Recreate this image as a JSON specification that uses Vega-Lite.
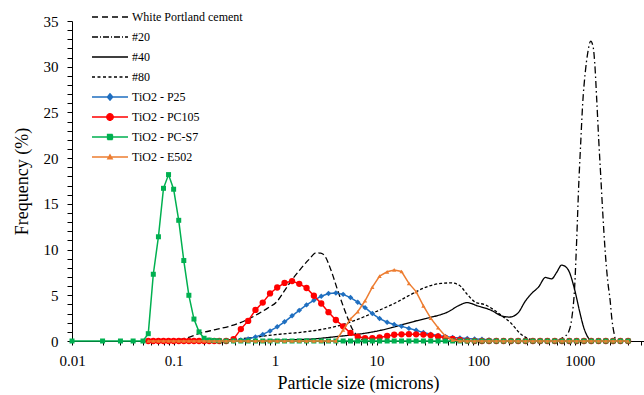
{
  "$schema": "https://vega.github.io/schema/vega-lite/v6.json",
  "width": 572,
  "height": 320,
  "autosize": {"type": "none"},
  "padding": {"left": 72, "top": 21, "right": 0, "bottom": 54},
  "config": {"font": "'Liberation Serif', 'Times New Roman', Times, serif", "view": {"stroke": null}},
  "data": {"values": [
    {"series":"White Portland cement","size":0.093,"freq":0},{"series":"White Portland cement","size":0.131,"freq":0.3},{"series":"White Portland cement","size":0.184,"freq":0.85},{"series":"White Portland cement","size":0.259,"freq":1.25},{"series":"White Portland cement","size":0.364,"freq":1.65},{"series":"White Portland cement","size":0.524,"freq":2.3},{"series":"White Portland cement","size":0.689,"freq":3.0},{"series":"White Portland cement","size":0.845,"freq":3.6},{"series":"White Portland cement","size":1.04,"freq":4.3},{"series":"White Portland cement","size":1.24,"freq":5.5},{"series":"White Portland cement","size":1.49,"freq":6.8},{"series":"White Portland cement","size":1.79,"freq":7.9},{"series":"White Portland cement","size":2.15,"freq":8.9},{"series":"White Portland cement","size":2.55,"freq":9.65},{"series":"White Portland cement","size":2.82,"freq":9.6},{"series":"White Portland cement","size":3.09,"freq":9.3},{"series":"White Portland cement","size":3.54,"freq":7.8},{"series":"White Portland cement","size":4.15,"freq":5.5},{"series":"White Portland cement","size":4.99,"freq":3.0},{"series":"White Portland cement","size":5.84,"freq":1.2},{"series":"White Portland cement","size":6.55,"freq":0.5},{"series":"White Portland cement","size":7.51,"freq":0.1},{"series":"White Portland cement","size":8.81,"freq":0},
    {"series":"#20","size":600,"freq":0},{"series":"#20","size":664,"freq":0.3},{"series":"#20","size":727,"freq":0.55},{"series":"#20","size":779,"freq":1.0},{"series":"#20","size":834,"freq":2.4},{"series":"#20","size":893,"freq":6},{"series":"#20","size":934,"freq":11},{"series":"#20","size":978,"freq":17},{"series":"#20","size":1023,"freq":21.6},{"series":"#20","size":1071,"freq":26},{"series":"#20","size":1133,"freq":29.3},{"series":"#20","size":1200,"freq":31.5},{"series":"#20","size":1284,"freq":32.8},{"series":"#20","size":1360,"freq":32.1},{"series":"#20","size":1407,"freq":30.4},{"series":"#20","size":1472,"freq":26.4},{"series":"#20","size":1540,"freq":22.0},{"series":"#20","size":1613,"freq":18.0},{"series":"#20","size":1688,"freq":14},{"series":"#20","size":1778,"freq":10},{"series":"#20","size":1891,"freq":6.5},{"series":"#20","size":1993,"freq":4.5},{"series":"#20","size":2071,"freq":2.5},{"series":"#20","size":2168,"freq":1.0},{"series":"#20","size":2269,"freq":0.1},{"series":"#20","size":2429,"freq":0},
    {"series":"#40","size":0.364,"freq":0},{"series":"#40","size":0.721,"freq":0.05},{"series":"#40","size":1.53,"freq":0.15},{"series":"#40","size":2.52,"freq":0.25},{"series":"#40","size":3.79,"freq":0.45},{"series":"#40","size":5.58,"freq":0.65},{"series":"#40","size":8.22,"freq":0.9},{"series":"#40","size":11.8,"freq":1.25},{"series":"#40","size":17.4,"freq":1.75},{"series":"#40","size":24.5,"freq":2.2},{"series":"#40","size":34.5,"freq":2.6},{"series":"#40","size":43.3,"freq":2.9},{"series":"#40","size":50.8,"freq":3.2},{"series":"#40","size":63.7,"freq":3.85},{"series":"#40","size":78.2,"freq":4.2},{"series":"#40","size":98.2,"freq":3.85},{"series":"#40","size":135,"freq":3.35},{"series":"#40","size":170,"freq":2.75},{"series":"#40","size":203,"freq":2.62},{"series":"#40","size":244,"freq":3.0},{"series":"#40","size":293,"freq":4.4},{"series":"#40","size":336,"freq":5.2},{"series":"#40","size":393,"freq":5.9},{"series":"#40","size":461,"freq":6.95},{"series":"#40","size":529,"freq":6.8},{"series":"#40","size":593,"freq":7.5},{"series":"#40","size":664,"freq":8.3},{"series":"#40","size":711,"freq":8.2},{"series":"#40","size":779,"freq":7.7},{"series":"#40","size":893,"freq":5.6},{"series":"#40","size":1000,"freq":3.2},{"series":"#40","size":1095,"freq":1.5},{"series":"#40","size":1200,"freq":0.45},{"series":"#40","size":1314,"freq":0.05},{"series":"#40","size":1472,"freq":0},
    {"series":"#80","size":0.25,"freq":0},{"series":"#80","size":0.364,"freq":0.15},{"series":"#80","size":0.574,"freq":0.35},{"series":"#80","size":1.01,"freq":0.7},{"series":"#80","size":1.79,"freq":0.95},{"series":"#80","size":3.16,"freq":1.35},{"series":"#80","size":4.98,"freq":1.9},{"series":"#80","size":7.34,"freq":2.6},{"series":"#80","size":10.3,"freq":3.3},{"series":"#80","size":14.9,"freq":4.1},{"series":"#80","size":21.9,"freq":5.1},{"series":"#80","size":30.8,"freq":5.9},{"series":"#80","size":43.3,"freq":6.3},{"series":"#80","size":54.3,"freq":6.35},{"series":"#80","size":65.2,"freq":6.1},{"series":"#80","size":78.2,"freq":5.1},{"series":"#80","size":93.8,"freq":4.25},{"series":"#80","size":118,"freq":3.95},{"series":"#80","size":141,"freq":3.45},{"series":"#80","size":169,"freq":2.8},{"series":"#80","size":213,"freq":1.9},{"series":"#80","size":255,"freq":0.9},{"series":"#80","size":306,"freq":0.3},{"series":"#80","size":367,"freq":0.05},{"series":"#80","size":440,"freq":0},
    {"series":"TiO2 - P25","size":0.0564,"freq":0},{"series":"TiO2 - P25","size":0.0632,"freq":0},{"series":"TiO2 - P25","size":0.071,"freq":0},{"series":"TiO2 - P25","size":0.0796,"freq":0},{"series":"TiO2 - P25","size":0.0893,"freq":0},{"series":"TiO2 - P25","size":0.1002,"freq":0},{"series":"TiO2 - P25","size":0.1125,"freq":0},{"series":"TiO2 - P25","size":0.1262,"freq":0},{"series":"TiO2 - P25","size":0.1416,"freq":0},{"series":"TiO2 - P25","size":0.1589,"freq":0},{"series":"TiO2 - P25","size":0.1783,"freq":0},{"series":"TiO2 - P25","size":0.2,"freq":0},{"series":"TiO2 - P25","size":0.2244,"freq":0},{"series":"TiO2 - P25","size":0.2518,"freq":0},{"series":"TiO2 - P25","size":0.2825,"freq":0},
    {"series":"TiO2 - P25","size":0.33,"freq":0},{"series":"TiO2 - P25","size":0.39,"freq":0.02},{"series":"TiO2 - P25","size":0.46,"freq":0.1},{"series":"TiO2 - P25","size":0.543,"freq":0.22},{"series":"TiO2 - P25","size":0.641,"freq":0.45},{"series":"TiO2 - P25","size":0.756,"freq":0.72},{"series":"TiO2 - P25","size":0.892,"freq":1.1},{"series":"TiO2 - P25","size":1.05,"freq":1.55},{"series":"TiO2 - P25","size":1.24,"freq":2.1},{"series":"TiO2 - P25","size":1.47,"freq":2.75},{"series":"TiO2 - P25","size":1.73,"freq":3.35},{"series":"TiO2 - P25","size":2.04,"freq":3.95},{"series":"TiO2 - P25","size":2.41,"freq":4.45},{"series":"TiO2 - P25","size":2.85,"freq":4.9},{"series":"TiO2 - P25","size":3.36,"freq":5.2},{"series":"TiO2 - P25","size":3.97,"freq":5.25},{"series":"TiO2 - P25","size":4.68,"freq":5.1},{"series":"TiO2 - P25","size":5.53,"freq":4.75},{"series":"TiO2 - P25","size":6.52,"freq":4.25},{"series":"TiO2 - P25","size":7.7,"freq":3.65},{"series":"TiO2 - P25","size":9.08,"freq":3.0},{"series":"TiO2 - P25","size":10.7,"freq":2.45},{"series":"TiO2 - P25","size":12.7,"freq":2.05},{"series":"TiO2 - P25","size":14.9,"freq":1.8},{"series":"TiO2 - P25","size":17.6,"freq":1.6},{"series":"TiO2 - P25","size":20.8,"freq":1.38},{"series":"TiO2 - P25","size":24.5,"freq":1.18},{"series":"TiO2 - P25","size":28.9,"freq":0.92},{"series":"TiO2 - P25","size":34.1,"freq":0.74},{"series":"TiO2 - P25","size":40.3,"freq":0.6},{"series":"TiO2 - P25","size":47.5,"freq":0.48},{"series":"TiO2 - P25","size":56.1,"freq":0.38},{"series":"TiO2 - P25","size":66.2,"freq":0.32},{"series":"TiO2 - P25","size":78.1,"freq":0.27},{"series":"TiO2 - P25","size":92.2,"freq":0.22},{"series":"TiO2 - P25","size":109,"freq":0.18},{"series":"TiO2 - P25","size":128,"freq":0.12},{"series":"TiO2 - P25","size":151,"freq":0.06},{"series":"TiO2 - P25","size":178,"freq":0.02},{"series":"TiO2 - P25","size":210,"freq":0},{"series":"TiO2 - P25","size":248,"freq":0},{"series":"TiO2 - P25","size":293,"freq":0},{"series":"TiO2 - P25","size":346,"freq":0},{"series":"TiO2 - P25","size":408,"freq":0},{"series":"TiO2 - P25","size":481,"freq":0},{"series":"TiO2 - P25","size":568,"freq":0},{"series":"TiO2 - P25","size":670,"freq":0},{"series":"TiO2 - P25","size":791,"freq":0},{"series":"TiO2 - P25","size":933,"freq":0},{"series":"TiO2 - P25","size":1101,"freq":0},{"series":"TiO2 - P25","size":1299,"freq":0},{"series":"TiO2 - P25","size":1533,"freq":0},{"series":"TiO2 - P25","size":1809,"freq":0},{"series":"TiO2 - P25","size":2134,"freq":0},{"series":"TiO2 - P25","size":2518,"freq":0},{"series":"TiO2 - P25","size":3000,"freq":0},
    {"series":"TiO2 - PC105","size":0.0564,"freq":0},{"series":"TiO2 - PC105","size":0.0632,"freq":0},{"series":"TiO2 - PC105","size":0.071,"freq":0},{"series":"TiO2 - PC105","size":0.0796,"freq":0},{"series":"TiO2 - PC105","size":0.0893,"freq":0},{"series":"TiO2 - PC105","size":0.1002,"freq":0},{"series":"TiO2 - PC105","size":0.1125,"freq":0},{"series":"TiO2 - PC105","size":0.1262,"freq":0},{"series":"TiO2 - PC105","size":0.1416,"freq":0},{"series":"TiO2 - PC105","size":0.1589,"freq":0},{"series":"TiO2 - PC105","size":0.1783,"freq":0},{"series":"TiO2 - PC105","size":0.2,"freq":0},{"series":"TiO2 - PC105","size":0.2244,"freq":0},{"series":"TiO2 - PC105","size":0.2518,"freq":0},{"series":"TiO2 - PC105","size":0.2825,"freq":0},
    {"series":"TiO2 - PC105","size":0.33,"freq":0},{"series":"TiO2 - PC105","size":0.39,"freq":0.2},{"series":"TiO2 - PC105","size":0.46,"freq":1.3},{"series":"TiO2 - PC105","size":0.543,"freq":2.2},{"series":"TiO2 - PC105","size":0.641,"freq":3.4},{"series":"TiO2 - PC105","size":0.756,"freq":4.2},{"series":"TiO2 - PC105","size":0.892,"freq":5.2},{"series":"TiO2 - PC105","size":1.05,"freq":5.85},{"series":"TiO2 - PC105","size":1.24,"freq":6.35},{"series":"TiO2 - PC105","size":1.47,"freq":6.55},{"series":"TiO2 - PC105","size":1.73,"freq":6.25},{"series":"TiO2 - PC105","size":2.04,"freq":5.8},{"series":"TiO2 - PC105","size":2.41,"freq":4.95},{"series":"TiO2 - PC105","size":2.85,"freq":4.1},{"series":"TiO2 - PC105","size":3.36,"freq":3.15},{"series":"TiO2 - PC105","size":3.97,"freq":2.3},{"series":"TiO2 - PC105","size":4.68,"freq":1.6},{"series":"TiO2 - PC105","size":5.53,"freq":0.88},{"series":"TiO2 - PC105","size":6.52,"freq":0.47},{"series":"TiO2 - PC105","size":7.7,"freq":0.32},{"series":"TiO2 - PC105","size":9.08,"freq":0.3},{"series":"TiO2 - PC105","size":10.7,"freq":0.38},{"series":"TiO2 - PC105","size":12.7,"freq":0.55},{"series":"TiO2 - PC105","size":14.9,"freq":0.68},{"series":"TiO2 - PC105","size":17.6,"freq":0.73},{"series":"TiO2 - PC105","size":20.8,"freq":0.75},{"series":"TiO2 - PC105","size":24.5,"freq":0.73},{"series":"TiO2 - PC105","size":28.9,"freq":0.7},{"series":"TiO2 - PC105","size":34.1,"freq":0.62},{"series":"TiO2 - PC105","size":40.3,"freq":0.5},{"series":"TiO2 - PC105","size":47.5,"freq":0.35},{"series":"TiO2 - PC105","size":56.1,"freq":0.22},{"series":"TiO2 - PC105","size":66.2,"freq":0.12},{"series":"TiO2 - PC105","size":78.1,"freq":0.05},{"series":"TiO2 - PC105","size":92.2,"freq":0},{"series":"TiO2 - PC105","size":109,"freq":0},{"series":"TiO2 - PC105","size":128,"freq":0},{"series":"TiO2 - PC105","size":151,"freq":0},{"series":"TiO2 - PC105","size":178,"freq":0},{"series":"TiO2 - PC105","size":210,"freq":0},{"series":"TiO2 - PC105","size":248,"freq":0},{"series":"TiO2 - PC105","size":293,"freq":0},{"series":"TiO2 - PC105","size":346,"freq":0},{"series":"TiO2 - PC105","size":408,"freq":0},{"series":"TiO2 - PC105","size":481,"freq":0},{"series":"TiO2 - PC105","size":568,"freq":0},{"series":"TiO2 - PC105","size":670,"freq":0},{"series":"TiO2 - PC105","size":791,"freq":0},{"series":"TiO2 - PC105","size":933,"freq":0},{"series":"TiO2 - PC105","size":1101,"freq":0},{"series":"TiO2 - PC105","size":1299,"freq":0},{"series":"TiO2 - PC105","size":1533,"freq":0},{"series":"TiO2 - PC105","size":1809,"freq":0},{"series":"TiO2 - PC105","size":2134,"freq":0},{"series":"TiO2 - PC105","size":2518,"freq":0},{"series":"TiO2 - PC105","size":3000,"freq":0},
    {"series":"TiO2 - PC-S7","size":0.01,"freq":0},{"series":"TiO2 - PC-S7","size":0.02,"freq":0},{"series":"TiO2 - PC-S7","size":0.03,"freq":0},{"series":"TiO2 - PC-S7","size":0.04,"freq":0},{"series":"TiO2 - PC-S7","size":0.05,"freq":0},
    {"series":"TiO2 - PC-S7","size":0.0564,"freq":0.8},{"series":"TiO2 - PC-S7","size":0.0632,"freq":7.3},{"series":"TiO2 - PC-S7","size":0.071,"freq":11.4},{"series":"TiO2 - PC-S7","size":0.0796,"freq":16.7},{"series":"TiO2 - PC-S7","size":0.0893,"freq":18.2},{"series":"TiO2 - PC-S7","size":0.1002,"freq":16.6},{"series":"TiO2 - PC-S7","size":0.1125,"freq":13.2},{"series":"TiO2 - PC-S7","size":0.1262,"freq":8.8},{"series":"TiO2 - PC-S7","size":0.1416,"freq":5.0},{"series":"TiO2 - PC-S7","size":0.1589,"freq":2.4},{"series":"TiO2 - PC-S7","size":0.1783,"freq":1.0},{"series":"TiO2 - PC-S7","size":0.2,"freq":0.3},{"series":"TiO2 - PC-S7","size":0.2244,"freq":0.1},{"series":"TiO2 - PC-S7","size":0.2518,"freq":0.05},{"series":"TiO2 - PC-S7","size":0.2825,"freq":0.02},
    {"series":"TiO2 - PC-S7","size":0.33,"freq":0},{"series":"TiO2 - PC-S7","size":0.39,"freq":0},{"series":"TiO2 - PC-S7","size":0.46,"freq":0},{"series":"TiO2 - PC-S7","size":0.543,"freq":0},{"series":"TiO2 - PC-S7","size":0.641,"freq":0},{"series":"TiO2 - PC-S7","size":0.756,"freq":0},{"series":"TiO2 - PC-S7","size":0.892,"freq":0},{"series":"TiO2 - PC-S7","size":1.05,"freq":0},{"series":"TiO2 - PC-S7","size":1.24,"freq":0},{"series":"TiO2 - PC-S7","size":1.47,"freq":0},{"series":"TiO2 - PC-S7","size":1.73,"freq":0},{"series":"TiO2 - PC-S7","size":2.04,"freq":0},{"series":"TiO2 - PC-S7","size":2.41,"freq":0},{"series":"TiO2 - PC-S7","size":2.85,"freq":0},{"series":"TiO2 - PC-S7","size":3.36,"freq":0},{"series":"TiO2 - PC-S7","size":3.97,"freq":0},{"series":"TiO2 - PC-S7","size":4.68,"freq":0},{"series":"TiO2 - PC-S7","size":5.53,"freq":0},{"series":"TiO2 - PC-S7","size":6.52,"freq":0},{"series":"TiO2 - PC-S7","size":7.7,"freq":0},{"series":"TiO2 - PC-S7","size":9.08,"freq":0},{"series":"TiO2 - PC-S7","size":10.7,"freq":0},{"series":"TiO2 - PC-S7","size":12.7,"freq":0},{"series":"TiO2 - PC-S7","size":14.9,"freq":0},{"series":"TiO2 - PC-S7","size":17.6,"freq":0},{"series":"TiO2 - PC-S7","size":20.8,"freq":0},{"series":"TiO2 - PC-S7","size":24.5,"freq":0},{"series":"TiO2 - PC-S7","size":28.9,"freq":0},{"series":"TiO2 - PC-S7","size":34.1,"freq":0},{"series":"TiO2 - PC-S7","size":40.3,"freq":0},{"series":"TiO2 - PC-S7","size":47.5,"freq":0},{"series":"TiO2 - PC-S7","size":56.1,"freq":0},{"series":"TiO2 - PC-S7","size":66.2,"freq":0},{"series":"TiO2 - PC-S7","size":78.1,"freq":0},{"series":"TiO2 - PC-S7","size":92.2,"freq":0},{"series":"TiO2 - PC-S7","size":109,"freq":0},{"series":"TiO2 - PC-S7","size":128,"freq":0},{"series":"TiO2 - PC-S7","size":151,"freq":0},{"series":"TiO2 - PC-S7","size":178,"freq":0},{"series":"TiO2 - PC-S7","size":210,"freq":0},{"series":"TiO2 - PC-S7","size":248,"freq":0},{"series":"TiO2 - PC-S7","size":293,"freq":0},{"series":"TiO2 - PC-S7","size":346,"freq":0},{"series":"TiO2 - PC-S7","size":408,"freq":0},{"series":"TiO2 - PC-S7","size":481,"freq":0},{"series":"TiO2 - PC-S7","size":568,"freq":0},{"series":"TiO2 - PC-S7","size":670,"freq":0},{"series":"TiO2 - PC-S7","size":791,"freq":0},{"series":"TiO2 - PC-S7","size":933,"freq":0},{"series":"TiO2 - PC-S7","size":1101,"freq":0},{"series":"TiO2 - PC-S7","size":1299,"freq":0},{"series":"TiO2 - PC-S7","size":1533,"freq":0},{"series":"TiO2 - PC-S7","size":1809,"freq":0},{"series":"TiO2 - PC-S7","size":2134,"freq":0},{"series":"TiO2 - PC-S7","size":2518,"freq":0},{"series":"TiO2 - PC-S7","size":3000,"freq":0},
    {"series":"TiO2 - E502","size":0.0564,"freq":0},{"series":"TiO2 - E502","size":0.0632,"freq":0},{"series":"TiO2 - E502","size":0.071,"freq":0},{"series":"TiO2 - E502","size":0.0796,"freq":0},{"series":"TiO2 - E502","size":0.0893,"freq":0},{"series":"TiO2 - E502","size":0.1002,"freq":0},{"series":"TiO2 - E502","size":0.1125,"freq":0},{"series":"TiO2 - E502","size":0.1262,"freq":0},{"series":"TiO2 - E502","size":0.1416,"freq":0},{"series":"TiO2 - E502","size":0.1589,"freq":0},{"series":"TiO2 - E502","size":0.1783,"freq":0},{"series":"TiO2 - E502","size":0.2,"freq":0},{"series":"TiO2 - E502","size":0.2244,"freq":0},{"series":"TiO2 - E502","size":0.2518,"freq":0},{"series":"TiO2 - E502","size":0.2825,"freq":0},
    {"series":"TiO2 - E502","size":0.33,"freq":0},{"series":"TiO2 - E502","size":0.39,"freq":0},{"series":"TiO2 - E502","size":0.46,"freq":0},{"series":"TiO2 - E502","size":0.543,"freq":0},{"series":"TiO2 - E502","size":0.641,"freq":0},{"series":"TiO2 - E502","size":0.756,"freq":0},{"series":"TiO2 - E502","size":0.892,"freq":0},{"series":"TiO2 - E502","size":1.05,"freq":0},{"series":"TiO2 - E502","size":1.24,"freq":0},{"series":"TiO2 - E502","size":1.47,"freq":0},{"series":"TiO2 - E502","size":1.73,"freq":0},{"series":"TiO2 - E502","size":2.04,"freq":0},{"series":"TiO2 - E502","size":2.41,"freq":0},{"series":"TiO2 - E502","size":2.85,"freq":0},{"series":"TiO2 - E502","size":3.36,"freq":0},{"series":"TiO2 - E502","size":3.97,"freq":0},{"series":"TiO2 - E502","size":4.68,"freq":1.2},{"series":"TiO2 - E502","size":5.53,"freq":2.4},{"series":"TiO2 - E502","size":6.52,"freq":3.2},{"series":"TiO2 - E502","size":7.7,"freq":4.4},{"series":"TiO2 - E502","size":9.08,"freq":5.9},{"series":"TiO2 - E502","size":10.7,"freq":7.1},{"series":"TiO2 - E502","size":12.7,"freq":7.57},{"series":"TiO2 - E502","size":14.9,"freq":7.77},{"series":"TiO2 - E502","size":17.6,"freq":7.6},{"series":"TiO2 - E502","size":20.8,"freq":6.3},{"series":"TiO2 - E502","size":24.5,"freq":5.4},{"series":"TiO2 - E502","size":28.9,"freq":3.85},{"series":"TiO2 - E502","size":34.1,"freq":2.5},{"series":"TiO2 - E502","size":40.3,"freq":1.45},{"series":"TiO2 - E502","size":47.5,"freq":0.55},{"series":"TiO2 - E502","size":56.1,"freq":0.12},{"series":"TiO2 - E502","size":66.2,"freq":0},{"series":"TiO2 - E502","size":78.1,"freq":0},{"series":"TiO2 - E502","size":92.2,"freq":0},{"series":"TiO2 - E502","size":109,"freq":0},{"series":"TiO2 - E502","size":128,"freq":0},{"series":"TiO2 - E502","size":151,"freq":0},{"series":"TiO2 - E502","size":178,"freq":0},{"series":"TiO2 - E502","size":210,"freq":0},{"series":"TiO2 - E502","size":248,"freq":0},{"series":"TiO2 - E502","size":293,"freq":0},{"series":"TiO2 - E502","size":346,"freq":0},{"series":"TiO2 - E502","size":408,"freq":0},{"series":"TiO2 - E502","size":481,"freq":0},{"series":"TiO2 - E502","size":568,"freq":0},{"series":"TiO2 - E502","size":670,"freq":0},{"series":"TiO2 - E502","size":791,"freq":0},{"series":"TiO2 - E502","size":933,"freq":0},{"series":"TiO2 - E502","size":1101,"freq":0},{"series":"TiO2 - E502","size":1299,"freq":0},{"series":"TiO2 - E502","size":1533,"freq":0},{"series":"TiO2 - E502","size":1809,"freq":0},{"series":"TiO2 - E502","size":2134,"freq":0},{"series":"TiO2 - E502","size":2518,"freq":0},{"series":"TiO2 - E502","size":3000,"freq":0}
  ]},
  "encoding": {
    "x": {
      "field": "size", "type": "quantitative",
      "scale": {"type": "log", "domain": [0.01, 4300], "nice": false},
      "axis": {
        "values": [0.01,0.02,0.03,0.04,0.05,0.06,0.07,0.08,0.09,0.1,0.2,0.3,0.4,0.5,0.6,0.7,0.8,0.9,1,2,3,4,5,6,7,8,9,10,20,30,40,50,60,70,80,90,100,200,300,400,500,600,700,800,900,1000,2000,3000,4000],
        "labelExpr": "indexof(['0.01','0.1','1','10','100','1000'], format(datum.value, '~g')) >= 0 ? format(datum.value, '~g') : ''",
        "labelFlush": false, "labelOverlap": false, "grid": false,
        "labelFont": "'Liberation Serif', 'Times New Roman', Times, serif",
        "titleFont": "'Liberation Serif', 'Times New Roman', Times, serif",
        "tickSize": 4, "tickColor": "black", "domainColor": "black",
        "labelColor": "black", "labelFontSize": 15, "labelPadding": 8,
        "title": "Particle size (microns)", "titleFontSize": 18, "titleFontWeight": "normal",
        "titleColor": "black", "titlePadding": 6
      }
    },
    "y": {
      "field": "freq", "type": "quantitative",
      "scale": {"domain": [0, 35], "nice": false},
      "axis": {
        "values": [0,1,2,3,4,5,6,7,8,9,10,11,12,13,14,15,16,17,18,19,20,21,22,23,24,25,26,27,28,29,30,31,32,33,34,35],
        "labelExpr": "datum.value % 5 === 0 ? datum.label : ''",
        "labelFlush": false, "labelOverlap": false, "grid": false,
        "labelFont": "'Liberation Serif', 'Times New Roman', Times, serif",
        "titleFont": "'Liberation Serif', 'Times New Roman', Times, serif",
        "tickSize": 5, "tickColor": "black", "domainColor": "black",
        "labelColor": "black", "labelFontSize": 15, "labelPadding": 9,
        "title": "Frequency (%)", "titleFontSize": 18, "titleFontWeight": "normal",
        "titleColor": "black", "titlePadding": 12
      }
    },
    "color": {
      "field": "series", "type": "nominal",
      "scale": {
        "domain": ["White Portland cement", "#20", "#40", "#80", "TiO2 - P25", "TiO2 - PC105", "TiO2 - PC-S7", "TiO2 - E502"],
        "range": ["#000000", "#000000", "#000000", "#000000", "#1f6fc0", "#ff0000", "#00b050", "#ed7d31"]
      },
      "legend": {
        "title": null, "orient": "none", "legendX": 32, "legendY": -10, "padding": 0,
        "symbolSize": 100, "symbolStrokeWidth": 1.3, "rowPadding": 8, "labelOffset": 16,
        "labelFont": "'Liberation Serif', 'Times New Roman', Times, serif", "labelFontSize": 12, "labelColor": "black",
        "encode": {"symbols": {"update": {
          "fill": {"signal": "scale('color', datum.value)"},
          "stroke": {"signal": "scale('color', datum.value)"},
          "opacity": {"value": 1}
        }}}
      }
    }
  },
  "layer": [
    {
      "transform": [{"filter": {"field": "series", "oneOf": ["White Portland cement", "#20", "#40", "#80"]}}],
      "mark": {"type": "line", "interpolate": "monotone", "strokeWidth": 1.3},
      "encoding": {
        "strokeDash": {
          "field": "series", "type": "nominal",
          "scale": {
            "domain": ["White Portland cement", "#20", "#40", "#80", "TiO2 - P25", "TiO2 - PC105", "TiO2 - PC-S7", "TiO2 - E502"],
            "range": [[6, 3], [7, 3, 1.5, 3], [1, 0], [3, 2], [1, 0], [1, 0], [1, 0], [1, 0]]
          },
          "legend": null
        }
      }
    },
    {
      "transform": [{"filter": {"field": "series", "equal": "TiO2 - P25"}}],
      "mark": {"type": "line", "strokeWidth": 1.5, "point": {"shape": "diamond", "size": 30, "filled": true, "opacity": 1}}
    },
    {
      "transform": [{"filter": {"field": "series", "equal": "TiO2 - PC105"}}],
      "mark": {"type": "line", "strokeWidth": 1.5, "point": {"shape": "circle", "size": 40, "filled": true, "opacity": 1}}
    },
    {
      "transform": [{"filter": {"field": "series", "equal": "TiO2 - PC-S7"}}],
      "mark": {"type": "line", "strokeWidth": 1.5, "point": {"shape": "square", "size": 25, "filled": true, "opacity": 1}}
    },
    {
      "transform": [{"filter": {"field": "series", "equal": "TiO2 - E502"}}],
      "mark": {"type": "line", "strokeWidth": 1.5, "point": {"shape": "triangle-up", "size": 18, "filled": true, "opacity": 1}}
    },
    {
      "transform": [{"filter": "false"}],
      "mark": {"type": "point", "filled": true, "opacity": 1},
      "encoding": {
        "shape": {
          "field": "series", "type": "nominal",
          "scale": {
            "domain": ["White Portland cement", "#20", "#40", "#80", "TiO2 - P25", "TiO2 - PC105", "TiO2 - PC-S7", "TiO2 - E502"],
            "range": [
              "M-3.6,0H-2.4M-1.6,0H-0.4M0.4,0H1.6M2.4,0H3.6",
              "M-3.6,0H-2.4M-2,0H-1.8M-1.4,0H-0.2M0.2,0H0.4M0.8,0H2M2.4,0H2.6M3,0H3.6",
              "M-3.6,0H3.6",
              "M-3.6,0H-3M-2.5,0H-1.9M-1.4,0H-0.8M-0.3,0H0.3M0.8,0H1.4M1.9,0H2.5M3,0H3.6",
              "M-3.6,0H3.6M0,-0.65L0.55,0L0,0.65L-0.55,0Z",
              "M-3.6,0H3.6M-0.65,0A0.65,0.65,0,1,0,0.65,0A0.65,0.65,0,1,0,-0.65,0Z",
              "M-3.6,0H3.6M-0.5,-0.5H0.5V0.5H-0.5Z",
              "M-3.6,0H3.6M0,-0.45L0.45,0.35H-0.45Z"
            ]
          },
          "legend": {
            "title": null, "orient": "none", "legendX": 32, "legendY": -10, "padding": 0,
            "symbolSize": 100, "symbolStrokeWidth": 1.3, "rowPadding": 8, "labelOffset": 16,
            "labelFont": "'Liberation Serif', 'Times New Roman', Times, serif", "labelFontSize": 12, "labelColor": "black",
            "encode": {"symbols": {"update": {
              "fill": {"signal": "scale('color', datum.value)"},
              "stroke": {"signal": "scale('color', datum.value)"},
              "opacity": {"value": 1}
            }}}
          }
        }
      }
    }
  ]
}
